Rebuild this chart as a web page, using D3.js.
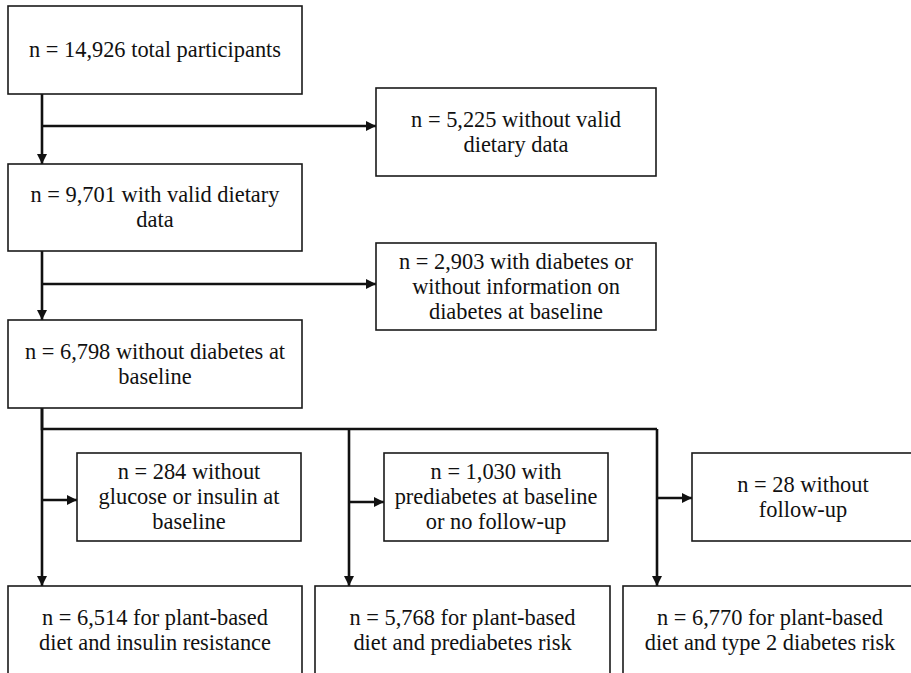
<!doctype html>
<html>
<head>
<meta charset="utf-8">
<title>Participant flow chart</title>
<script src="https://d3js.org/d3.v7.min.js"></script>
<style>
  body { margin: 0; background: #fff; }
  .box rect { fill: #fff; stroke: #1a1a1a; stroke-width: 1.6; }
  .flow { fill: none; stroke: #111; stroke-width: 2.6; }
</style>
</head>
<body>
<script>
// box texts, one entry per line
const mainSteps = [
  ["n = 14,926 total participants"],
  ["n = 9,701 with valid dietary", "data"],
  ["n = 6,798 without diabetes at", "baseline"]
];
const earlyExclusions = [
  ["n = 5,225 without valid", "dietary data"],
  ["n = 2,903 with diabetes or", "without information on", "diabetes at baseline"]
];
const branchExclusions = [
  ["n = 284 without", "glucose or insulin at", "baseline"],
  ["n = 1,030 with", "prediabetes at baseline", "or no follow-up"],
  ["n = 28 without", "follow-up"]
];
const outcomes = [
  ["n = 6,514 for plant-based", "diet and insulin resistance"],
  ["n = 5,768 for plant-based", "diet and prediabetes risk"],
  ["n = 6,770 for plant-based", "diet and type 2 diabetes risk"]
];

const w = 911, h = 673;
const svg = d3.select("body").append("svg")
  .attr("width", w).attr("height", h);

// arrowhead
svg.append("defs").append("marker")
  .attr("id", "arrow")
  .attr("viewBox", "0 0 10 10")
  .attr("refX", 10).attr("refY", 5)
  .attr("markerUnits", "userSpaceOnUse")
  .attr("markerWidth", 11).attr("markerHeight", 10)
  .attr("orient", "auto")
  .append("path").attr("d", "M0,0L10,5L0,10Z").attr("fill", "#111");

// layout
const spineX = 42;
const mainX = [8, 302];
const mainY = d3.scaleOrdinal().domain([0, 1, 2]).range([[6, 94], [164, 251], [320, 408]]);
const exclX = [376, 656];
const exclY = d3.scaleOrdinal().domain([0, 1]).range([[88, 176], [243, 330]]);
const branchXs = [[77, 301], [384, 608], [692, 914]];
const branchY = [453, 541];
const branchStem = [42, 349, 657];
const branchLineY = 429;
const outX = [[8, 302], [315, 610], [623, 917]];
const outY = [586, 674];

const lineH = 25;

function drawBox(lines, x0, x1, y0, y1) {
  const g = svg.append("g").attr("class", "box");
  g.append("rect")
    .attr("x", x0).attr("y", y0)
    .attr("width", x1 - x0).attr("height", y1 - y0);
  const cx = (x0 + x1) / 2, cy = (y0 + y1) / 2;
  const startY = cy - (lines.length - 1) * lineH / 2;
  g.selectAll("text").data(lines).enter().append("text")
    .attr("x", cx)
    .attr("y", (d, i) => startY + i * lineH + 7)
    .attr("text-anchor", "middle")
    .attr("font-family", "Liberation Serif")
    .attr("font-size", 22.4)
    .attr("fill", "#111")
    .text(d => d);
}

function arrow(pts) {
  svg.append("path").attr("class", "flow")
    .attr("d", d3.line()(pts))
    .attr("marker-end", "url(#arrow)");
}
function line(pts) {
  svg.append("path").attr("class", "flow").attr("d", d3.line()(pts));
}

// connectors first so boxes sit over line ends
const exclArrowY = [126, 284];
exclArrowY.forEach(y => arrow([[spineX, y], [exclX[0], y]]));
arrow([[spineX, mainY(0)[1]], [spineX, mainY(1)[0]]]);
arrow([[spineX, mainY(1)[1]], [spineX, mainY(2)[0]]]);

line([[spineX, mainY(2)[1]], [spineX, branchLineY], [branchStem[2], branchLineY]]);
const branchArrowY = [500, 502, 498];
branchStem.forEach((x, i) => {
  arrow([[x, i === 0 ? mainY(2)[1] : branchLineY], [x, outY[0]]]);
  arrow([[x, branchArrowY[i]], [branchXs[i][0], branchArrowY[i]]]);
});

mainSteps.forEach((d, i) => drawBox(d, mainX[0], mainX[1], mainY(i)[0], mainY(i)[1]));
earlyExclusions.forEach((d, i) => drawBox(d, exclX[0], exclX[1], exclY(i)[0], exclY(i)[1]));
branchExclusions.forEach((d, i) => drawBox(d, branchXs[i][0], branchXs[i][1], branchY[0], branchY[1]));
outcomes.forEach((d, i) => drawBox(d, outX[i][0], outX[i][1], outY[0], outY[1]));
</script>
</body>
</html>
